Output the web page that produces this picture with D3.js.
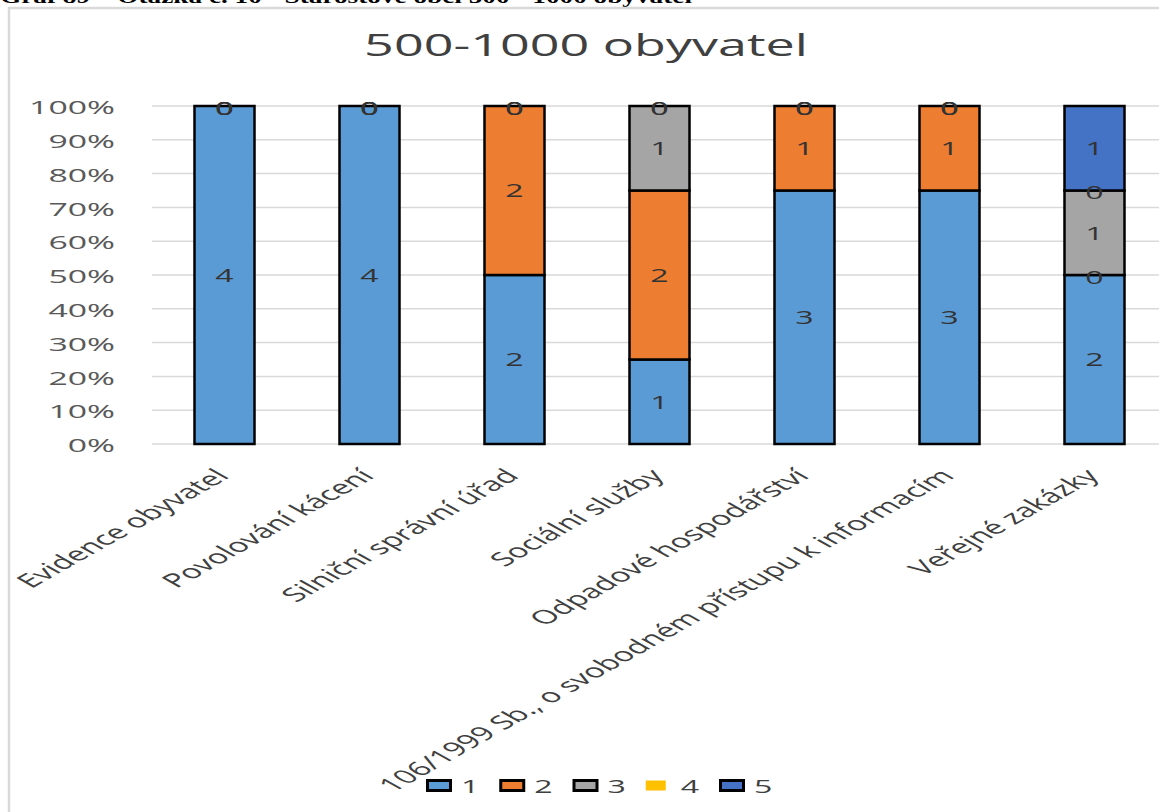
<!DOCTYPE html>
<html>
<head>
<meta charset="utf-8">
<script src="https://cdn.jsdelivr.net/npm/d3@7"></script>
<style>
  html, body { margin: 0; padding: 0; background: #fff; }
  svg { display: block; }
</style>
</head>
<body>
<svg id="chart" width="1159" height="812"></svg>
<script>
// ---- data ----
const categories = [
  "Evidence obyvatel",
  "Povolování kácení",
  "Silniční správní úřad",
  "Sociální služby",
  "Odpadové hospodářství",
  "106/1999 Sb., o svobodném přístupu k informacím",
  "Veřejné zakázky"
];
const seriesNames = ["1", "2", "3", "4", "5"];
const values1 = [4, 4, 2, 1, 3, 3, 2];
const values2 = [0, 0, 2, 2, 1, 1, 0];
const values3 = [0, 0, 0, 1, 0, 0, 1];
const values4 = [0, 0, 0, 0, 0, 0, 0];
const values5 = [0, 0, 0, 0, 0, 0, 1];
const seriesColors = ["#5B9BD5", "#ED7D31", "#A5A5A5", "#FFC000", "#4472C4"];
const yTickValues = [0, 0.1, 0.2, 0.3, 0.4, 0.5, 0.6, 0.7, 0.8, 0.9, 1.0];
const chartTitle = "500-1000 obyvatel";
const headerText = "Graf 89 – Otázka č. 10 - Starostové obcí 500 - 1000 obyvatel";

// ---- build table ----
const allValues = [values1, values2, values3, values4, values5];
const rows = categories.map((c, i) => {
  const r = { cat: c };
  seriesNames.forEach((s, k) => r[s] = allValues[k][i]);
  return r;
});
const stacked = d3.stack().keys(seriesNames).offset(d3.stackOffsetExpand)(rows);

// ---- layout ----
const SX = 1.78; // horizontal stretch of the original picture
const svg = d3.select("#chart");
svg.append("rect").attr("width", 1159).attr("height", 812).attr("fill", "#fff");

// header (cut off at the top, as in the reference)
svg.append("text")
  .attr("x", 0).attr("y", 3)
  .attr("font-family", "Liberation Serif, serif")
  .attr("font-weight", "bold")
  .attr("font-size", 19)
  .attr("textLength", 692)
  .attr("lengthAdjust", "spacingAndGlyphs")
  .attr("fill", "#000")
  .text(headerText);

// chart frame
svg.append("rect")
  .attr("x", 9).attr("y", 8)
  .attr("width", 1170).attr("height", 820)
  .attr("fill", "none")
  .attr("stroke", "#d9d9d9")
  .attr("stroke-width", 2.5);

const x = d3.scaleBand().domain(categories).range([152, 1167])
  .paddingInner(0.5862).paddingOuter(0.2931);
const y = d3.scaleLinear().domain([0, 1]).range([444, 106]);
const color = d3.scaleOrdinal().domain(seriesNames).range(seriesColors);

function stretched(parent, px, py, sx, rot) {
  return parent.append("g")
    .attr("transform", `translate(${px},${py}) scale(${sx},1)` + (rot ? ` rotate(${rot})` : ""));
}

// gridlines
svg.append("g").selectAll("line").data(yTickValues).join("line")
  .attr("x1", 152).attr("x2", 1167)
  .attr("y1", d => y(d)).attr("y2", d => y(d))
  .attr("stroke", "#d9d9d9").attr("stroke-width", 1.5);

// y tick labels
const yFmt = d3.format(".0%");
yTickValues.forEach(v => {
  stretched(svg, 115, y(v) + 1, SX).append("text")
    .attr("text-anchor", "end")
    .attr("dominant-baseline", "central")
    .attr("font-family", "Open Sans, sans-serif")
    .attr("font-size", 19)
    .attr("fill", "#595959")
    .text(yFmt(v));
});

// bars
const gBars = svg.append("g");
stacked.forEach((layer, k) => {
  gBars.append("g").selectAll("rect")
    .data(layer.filter(d => d[1] - d[0] > 0))
    .join("rect")
    .attr("x", d => x(d.data.cat))
    .attr("width", x.bandwidth())
    .attr("y", d => y(d[1]))
    .attr("height", d => y(d[0]) - y(d[1]))
    .attr("fill", color(layer.key))
    .attr("stroke", "#000")
    .attr("stroke-width", 2.5);
});

// data labels
stacked.forEach((layer, k) => {
  layer.forEach(d => {
    const val = d.data[layer.key];
    const cy = val > 0 ? (y(d[0]) + y(d[1])) / 2 : y(d[1]) + 2;
    stretched(svg, x(d.data.cat) + x.bandwidth() / 2, cy, SX).append("text")
      .attr("text-anchor", "middle")
      .attr("dominant-baseline", "central")
      .attr("font-family", "Open Sans, sans-serif")
      .attr("font-size", 18)
      .attr("fill", "#333333")
      .text(val);
  });
});

// title
stretched(svg, 586, 56, 1.68).append("text")
  .attr("text-anchor", "middle")
  .attr("font-family", "Open Sans, sans-serif")
  .attr("font-size", 31)
  .attr("fill", "#404040")
  .text(chartTitle);

// category labels
categories.forEach(c => {
  stretched(svg, x(c) + x.bandwidth() / 2 + 6, 477, SX, -45).append("text")
    .attr("text-anchor", "end")
    .attr("font-family", "Open Sans, sans-serif")
    .attr("font-size", 19)
    .attr("fill", "#404040")
    .text(c);
});

// legend
const legX = d3.scalePoint().domain(seriesNames).range([426, 719]);
const legY = 786;
seriesNames.forEach((s, k) => {
  const lx = legX(s);
  const hasBorder = s !== "4";
  svg.append("rect")
    .attr("x", hasBorder ? lx + 1.5 : lx + 0)
    .attr("y", legY - 5.5)
    .attr("width", hasBorder ? 23 : 20)
    .attr("height", 10)
    .attr("fill", color(s))
    .attr("stroke", hasBorder ? "#000" : "none")
    .attr("stroke-width", 3);
  stretched(svg, lx + 35, legY, SX).append("text")
    .attr("dominant-baseline", "central")
    .attr("font-family", "Open Sans, sans-serif")
    .attr("font-size", 18)
    .attr("fill", "#404040")
    .text(s);
});
</script>
</body>
</html>
